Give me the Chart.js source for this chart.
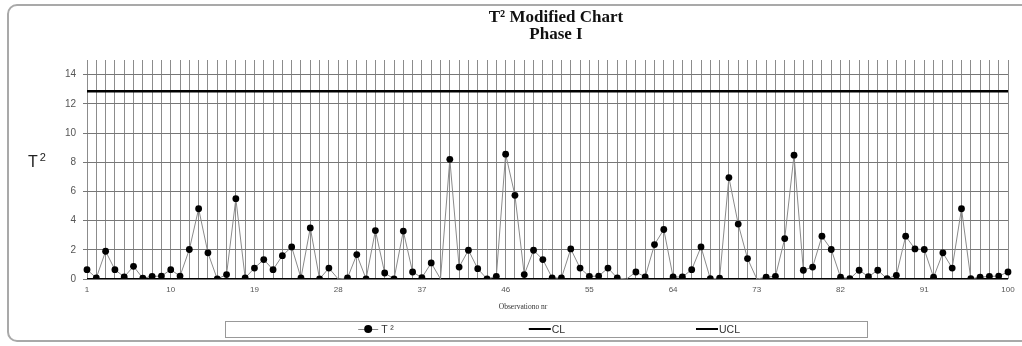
<!DOCTYPE html>
<html>
<head>
<meta charset="utf-8">
<script src="https://cdn.jsdelivr.net/npm/chart.js@4.4.1/dist/chart.umd.min.js"></script>
<style>
  html, body { margin:0; padding:0; background:#fff; }
  #wrap { position:relative; width:1022px; height:346px; overflow:hidden; background:#fff; }
  #frame { position:absolute; left:7px; top:4px; width:1040px; height:338px; border:2px solid #a9a9a9; border-radius:10px; box-sizing:border-box; }
  canvas { position:absolute; left:0; top:0; }
  .title { position:absolute; left:356px; width:400px; text-align:center; font-family:"Liberation Serif", "Times New Roman", serif; font-weight:bold; font-size:17px; color:#111; line-height:18px; }
  .ytitle { position:absolute; left:28px; top:153px; font-family:"Liberation Sans", Arial, sans-serif; font-size:16px; color:#222; }
  .ytitle sup { font-size:11px; position:relative; top:-2px; vertical-align:top; margin-left:2px; }
  .xtitle { position:absolute; left:423px; width:200px; top:302px; text-align:center; font-family:"Liberation Serif", serif; font-size:7.5px; color:#333; }
  #legend { position:absolute; left:225px; top:321px; width:643px; height:17px; border:1.5px solid #999; box-sizing:border-box; font-family:"Liberation Sans", Arial, sans-serif; font-size:10.5px; color:#333; }
  .li { position:absolute; top:0; height:14px; display:flex; align-items:center; transform:translateX(-50%); white-space:nowrap; }
  .seg { display:inline-block; width:22px; height:2.5px; background:#000; margin-right:1px; }
  .tseg { display:inline-block; position:relative; width:20px; height:1px; background:#888; margin-right:3px; }
  .tseg::after { content:""; position:absolute; left:6px; top:-3.5px; width:8px; height:8px; border-radius:50%; background:#000; }
</style>
</head>
<body>
<div id="wrap">
  <div id="frame"></div>
  <canvas id="c" width="1022" height="346"></canvas>
  <div class="title" style="top:8px;">T² Modified Chart</div>
  <div class="title" style="top:25px;">Phase I</div>
  <div class="ytitle">T<sup>2</sup></div>
  <div class="xtitle">Observationo nr</div>
  <div id="legend">
    <div class="li" style="left:150px;"><span class="tseg"></span>T ²</div>
    <div class="li" style="left:321px;"><span class="seg"></span>CL</div>
    <div class="li" style="left:492px;"><span class="seg"></span>UCL</div>
  </div>
</div>
<script>
// ---- data ----
const observations = Array.from({length: 100}, (_, i) => String(i + 1));
const xTickLabels = ["1","10","19","28","37","46","55","64","73","82","91","100"];
const yTickValues = [0, 2, 4, 6, 8, 10, 12, 14];
const t2Values = [
  0.64, 0.07, 1.90, 0.64, 0.14, 0.87, 0.05, 0.18, 0.20, 0.64,
  0.20, 2.02, 4.81, 1.79, 0.00, 0.30, 5.50, 0.07, 0.75, 1.33,
  0.64, 1.60, 2.20, 0.07, 3.50, 0.00, 0.75, 0.00, 0.07, 1.67,
  0.00, 3.32, 0.41, 0.00, 3.28, 0.48, 0.09, 1.10, 0.00, 8.20,
  0.82, 1.97, 0.71, 0.00, 0.18, 8.55, 5.73, 0.30, 1.97, 1.33,
  0.07, 0.07, 2.06, 0.75, 0.18, 0.20, 0.75, 0.07, 0.00, 0.48,
  0.14, 2.36, 3.39, 0.14, 0.14, 0.64, 2.20, 0.02, 0.05, 6.95,
  3.76, 1.40, 0.00, 0.12, 0.18, 2.77, 8.48, 0.60, 0.82, 2.93,
  2.02, 0.12, 0.02, 0.60, 0.16, 0.60, 0.02, 0.25, 2.93, 2.06,
  2.02, 0.12, 1.79, 0.75, 4.81, 0.02, 0.12, 0.18, 0.20, 0.48
];
const noMarkerObs = ["28", "39", "59", "73"];
const clValue = 0;
const uclValue = 12.86;
const clValues = observations.map(() => clValue);
const uclValues = observations.map(() => uclValue);

new Chart(document.getElementById('c'), {
  type: 'line',
  data: {
    labels: observations,
    datasets: [
      {
        label: 'T ²',
        data: t2Values,
        borderColor: '#8a8a8a',
        borderWidth: 1,
        pointBackgroundColor: '#000',
        pointBorderColor: '#000',
        pointBorderWidth: 0,
        pointRadius: (ctx) => noMarkerObs.includes(observations[ctx.dataIndex]) ? 0 : 3.4,
        tension: 0
      },
      {
        label: 'CL',
        data: clValues,
        borderColor: '#000',
        borderWidth: 2,
        pointRadius: 0,
        tension: 0
      },
      {
        label: 'UCL',
        data: uclValues,
        borderColor: '#000',
        borderWidth: 2.5,
        pointRadius: 0,
        tension: 0
      }
    ]
  },
  options: {
    responsive: false,
    animation: false,
    devicePixelRatio: 1,
    events: [],
    layout: { padding: { left: 0, right: 14, top: 60, bottom: 0 } },
    plugins: { legend: { display: false }, title: { display: false }, tooltip: { enabled: false } },
    scales: {
      x: {
        type: 'category',
        offset: false,
        grid: { color: '#8c8c8c', lineWidth: 1, drawTicks: false },
        border: { display: false },
        ticks: {
          autoSkip: false, maxRotation: 0, minRotation: 0, padding: 6,
          color: '#555', font: { family: 'Liberation Sans', size: 8 },
          callback: (v, i) => xTickLabels.includes(observations[i]) ? observations[i] : ''
        },
        afterFit: (s) => { s.height = 67; }
      },
      y: {
        min: 0, max: 15,
        grid: { color: '#777', lineWidth: 1, drawTicks: true, tickLength: 4 },
        border: { display: false },
        ticks: { stepSize: 2, padding: 7, color: '#555', font: { family: 'Liberation Sans', size: 10 } },
        afterBuildTicks: (s) => { s.ticks = yTickValues.map(v => ({ value: v })); },
        afterFit: (s) => { s.width = 87; }
      }
    }
  }
});
</script>
</body>
</html>
